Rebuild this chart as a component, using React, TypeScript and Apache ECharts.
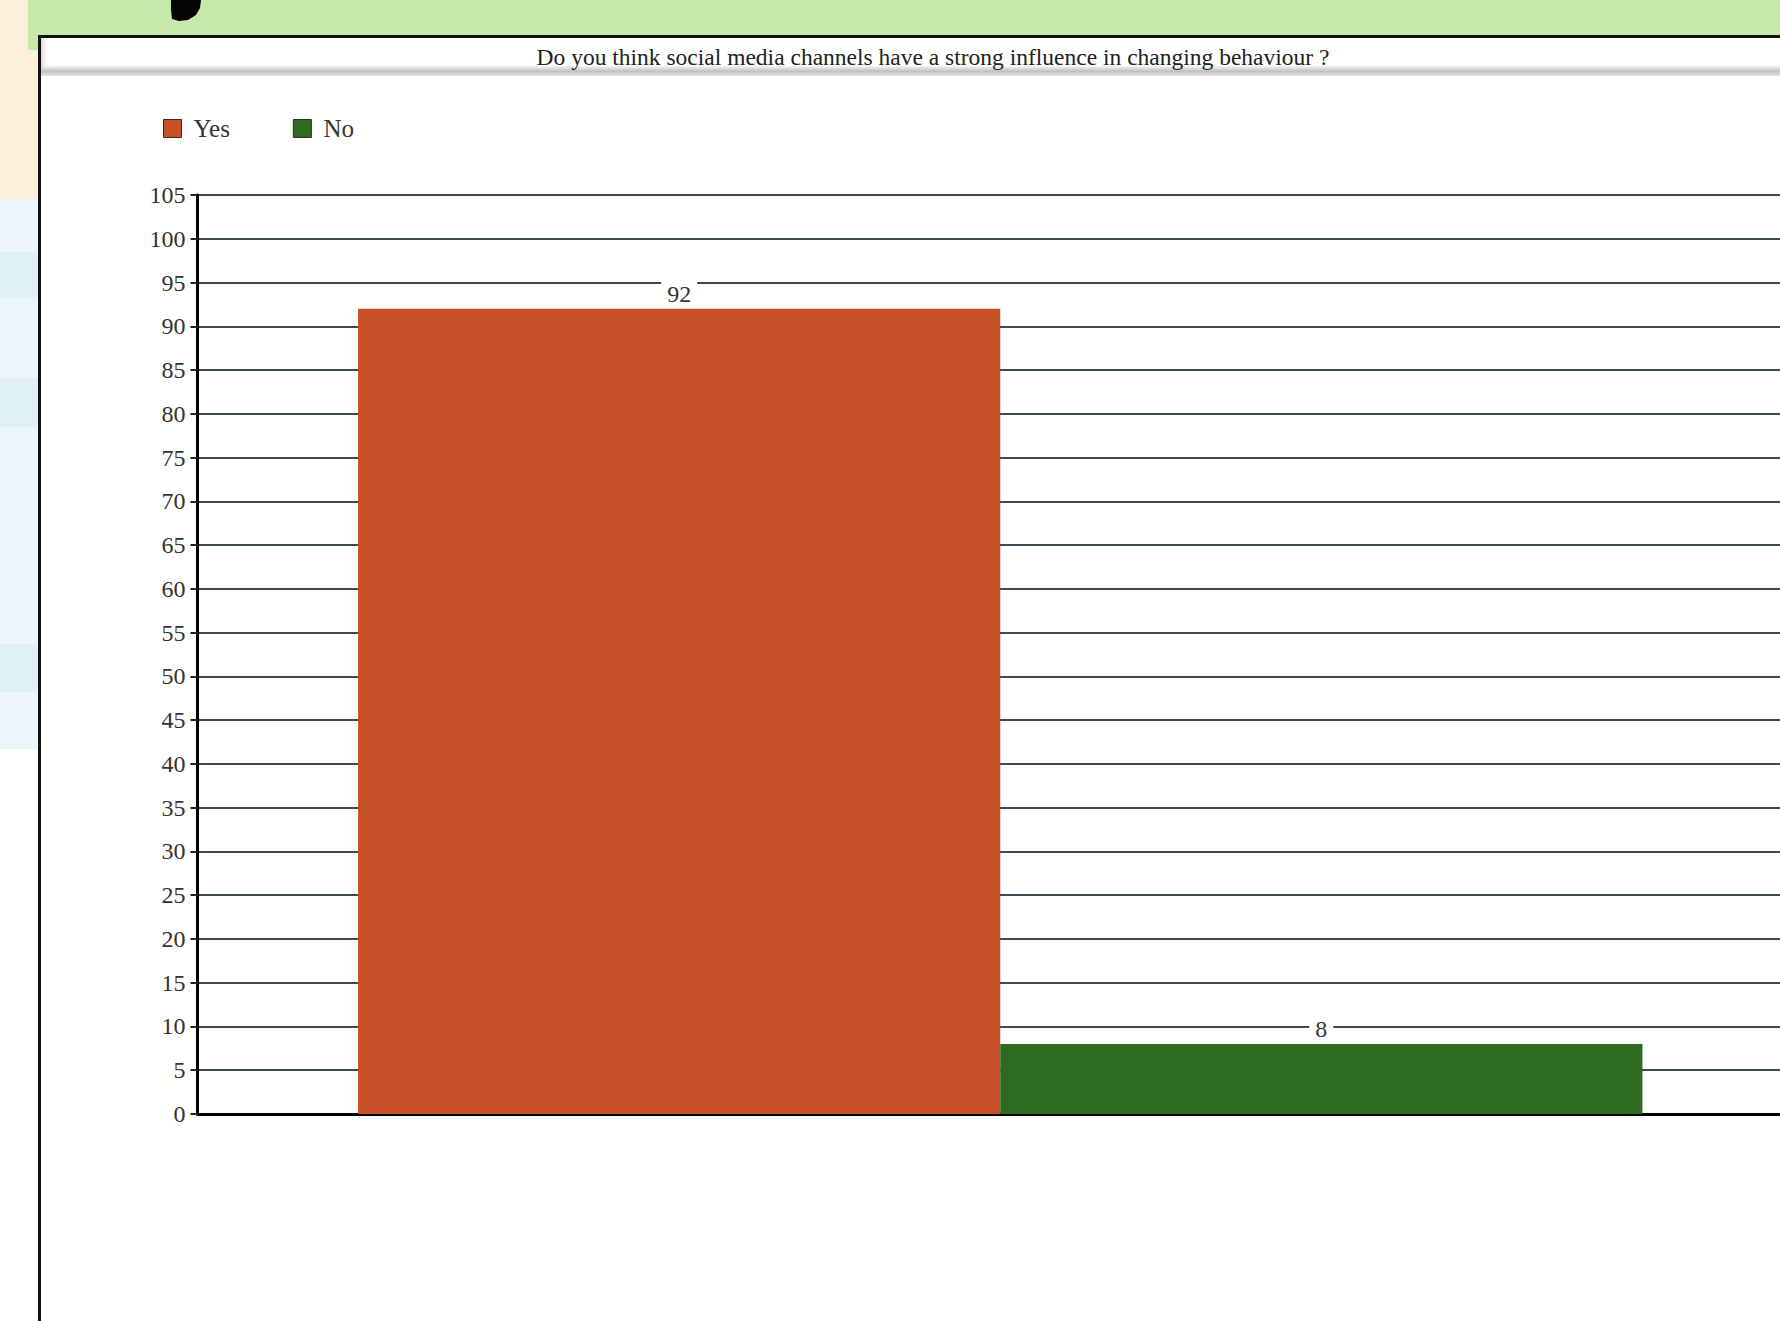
import React, { useEffect, useRef } from "react";
import * as echarts from "echarts";

const titleText = "Do you think social media channels have a strong influence in changing behaviour ?";
const categories = [""];
const seriesNames = ["Yes", "No"];
const yesValues = [92];
const noValues = [8];
const seriesColors = ["#c85127", "#2e6a1f"];
const yMin = 0;
const yMax = 105;
const yInterval = 5;

const SERIF = "'Liberation Serif', 'Times New Roman', serif";

export default function App() {
  const ref = useRef<HTMLDivElement>(null);
  useEffect(() => {
    if (!ref.current) return;
    const chart = echarts.init(ref.current, undefined, { renderer: "svg" });
    const labelStyle = {
      show: true,
      position: "top",
      distance: 1,
      fontFamily: SERIF,
      fontSize: 24,
      color: "#333",
      backgroundColor: "#fff",
      padding: [2, 6, 2, 6],
    };
    chart.setOption({
      animation: false,
      backgroundColor: "#ffffff",
      title: {
        text: titleText,
        left: 933,
        top: 44,
        textAlign: "center",
        padding: 0,
        textStyle: {
          fontFamily: SERIF,
          fontSize: 23.5,
          fontWeight: "normal",
          color: "#222",
          lineHeight: 26,
        },
        z: 10,
      },
      legend: {
        left: 163,
        top: 116,
        padding: 0,
        itemWidth: 18,
        itemHeight: 18,
        itemGap: 63,
        icon: "rect",
        itemStyle: { borderColor: "#3a2a22", borderWidth: 1 },
        textStyle: {
          fontFamily: SERIF,
          fontSize: 25,
          color: "#333",
          padding: [0, 0, 0, 7],
        },
        data: seriesNames,
      },
      graphic: [
        { type: "rect", z: -5, shape: { x: 0, y: 0, width: 38, height: 199 }, style: { fill: "#fcefdb" } },
        { type: "rect", z: -5, shape: { x: 0, y: 199, width: 38, height: 550 }, style: { fill: "#ebf6fc" } },
        { type: "rect", z: -4, shape: { x: 0, y: 252, width: 38, height: 45 }, style: { fill: "#dff0f7" } },
        { type: "rect", z: -4, shape: { x: 0, y: 378, width: 38, height: 49 }, style: { fill: "#dff0f7" } },
        { type: "rect", z: -4, shape: { x: 0, y: 644, width: 38, height: 48 }, style: { fill: "#dff0f7" } },
        { type: "rect", z: -3, shape: { x: 28, y: 0, width: 1800, height: 50 }, style: { fill: "#c6e8ab" } },
        {
          type: "polygon",
          z: -2,
          shape: {
            points: [
              [171, 0],
              [201, 0],
              [200, 8],
              [196, 15],
              [188, 20],
              [179, 21],
              [172, 19],
              [171, 10],
            ],
          },
          style: { fill: "#050505" },
        },
        {
          type: "rect",
          z: -2,
          shape: { x: 40, y: 37, width: 1800, height: 39 },
          style: {
            fill: {
              type: "linear",
              x: 0,
              y: 0,
              x2: 0,
              y2: 1,
              colorStops: [
                { offset: 0, color: "#ffffff" },
                { offset: 0.72, color: "#ffffff" },
                { offset: 0.88, color: "#c0c0c0" },
                { offset: 1, color: "#e4e4e4" },
              ],
            },
          },
        },
        {
          type: "rect",
          z: -1,
          shape: { x: 41, y: 38, width: 9, height: 30 },
          style: {
            fill: {
              type: "linear",
              x: 0,
              y: 0,
              x2: 1,
              y2: 0,
              colorStops: [
                { offset: 0, color: "#d8d8d8" },
                { offset: 1, color: "rgba(255,255,255,0)" },
              ],
            },
          },
        },
        {
          type: "rect",
          z: 0,
          shape: { x: 39.5, y: 36.5, width: 1850, height: 1400 },
          style: { fill: "none", stroke: "#111", lineWidth: 3 },
        },
      ],
      grid: {
        left: 197.5,
        right: 0,
        top: 195,
        bottom: 207,
        containLabel: false,
        outerBoundsMode: "none",
      },
      xAxis: {
        type: "category",
        data: categories,
        axisLine: { show: true, lineStyle: { color: "#000", width: 3 } },
        axisTick: { show: false },
        axisLabel: { show: false },
        splitLine: { show: false },
      },
      yAxis: {
        type: "value",
        min: yMin,
        max: yMax,
        interval: yInterval,
        axisLine: { show: true, lineStyle: { color: "#000", width: 3 } },
        axisTick: { show: true, length: 7, lineStyle: { color: "#222", width: 2 } },
        axisLabel: {
          margin: 12,
          fontFamily: SERIF,
          fontSize: 24,
          color: "#333",
        },
        splitLine: { show: true, lineStyle: { color: "#3d4a52", width: 2 } },
      },
      series: [
        {
          name: seriesNames[0],
          type: "bar",
          data: yesValues,
          barGap: "0%",
          barCategoryGap: "20%",
          itemStyle: { color: seriesColors[0] },
          label: labelStyle,
        },
        {
          name: seriesNames[1],
          type: "bar",
          data: noValues,
          barGap: "0%",
          barCategoryGap: "20%",
          itemStyle: { color: seriesColors[1] },
          label: labelStyle,
        },
      ],
    });
    return () => chart.dispose();
  }, []);
  return (
    <div
      style={{
        position: "fixed",
        left: 0,
        top: 0,
        width: 1780,
        height: 1321,
        overflow: "hidden",
      }}
    >
      <div ref={ref} style={{ width: 1803, height: 1321 }} />
    </div>
  );
}
